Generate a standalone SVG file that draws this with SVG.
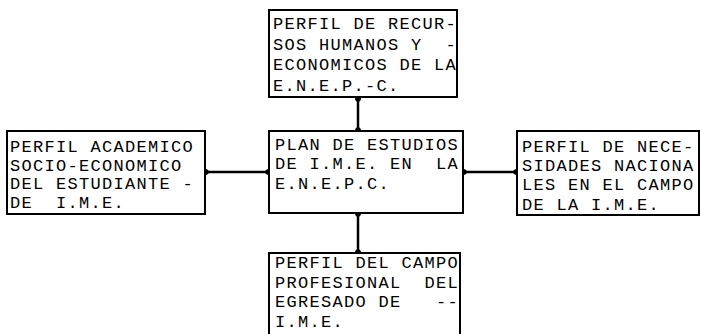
<svg xmlns="http://www.w3.org/2000/svg" width="701" height="334" viewBox="0 0 701 334">
<defs>
<style>
.box{fill:#fff;stroke:#000;stroke-width:2}
.t{font-family:"Liberation Mono","Courier New",monospace;font-size:17px;letter-spacing:1.3px;fill:#000;white-space:pre}
.c{stroke:#000;stroke-width:2.5;fill:none}
</style>
<marker id="blob" viewBox="0 0 10 10" refX="5" refY="5" markerWidth="4" markerHeight="3" orient="auto">
<ellipse cx="5" cy="5" rx="5" ry="4" fill="#000"/>
</marker>
</defs>
<rect width="701" height="334" fill="#fff"/>
<g id="connectors">
<line class="c" x1="358" y1="98" x2="358" y2="131" marker-start="url(#blob)" marker-end="url(#blob)"/>
<line class="c" x1="358" y1="213" x2="358" y2="253" marker-start="url(#blob)" marker-end="url(#blob)"/>
<line class="c" x1="205" y1="172" x2="269" y2="172" marker-start="url(#blob)" marker-end="url(#blob)"/>
<line class="c" x1="463" y1="172" x2="517" y2="172" marker-start="url(#blob)" marker-end="url(#blob)"/>
</g>
<g id="top">
<rect class="box" x="269" y="10" width="188" height="87"/>
<text class="t" x="273" y="29">PERFIL DE RECUR-</text>
<text class="t" x="273" y="50">SOS HUMANOS Y  -</text>
<text class="t" x="273" y="70">ECONOMICOS DE LA</text>
<text class="t" x="273" y="91">E.N.E.P.-C.</text>
</g>
<g id="left">
<rect class="box" x="7" y="131" width="198" height="83"/>
<text class="t" x="10" y="152">PERFIL ACADEMICO</text>
<text class="t" x="10" y="171">SOCIO-ECONOMICO</text>
<text class="t" x="10" y="189">DEL ESTUDIANTE -</text>
<text class="t" x="10" y="208">DE  I.M.E.</text>
</g>
<g id="center">
<rect class="box" x="269" y="131" width="194" height="82"/>
<text class="t" x="275" y="150">PLAN DE ESTUDIOS</text>
<text class="t" x="275" y="169">DE I.M.E. EN  LA</text>
<text class="t" x="275" y="189">E.N.E.P.C.</text>
</g>
<g id="right">
<rect class="box" x="517" y="131" width="182" height="84"/>
<text class="t" x="522" y="152">PERFIL DE NECE-</text>
<text class="t" x="522" y="171">SIDADES NACIONA</text>
<text class="t" x="522" y="190">LES EN EL CAMPO</text>
<text class="t" x="522" y="210">DE LA I.M.E.</text>
</g>
<g id="bottom">
<rect class="box" x="269" y="253" width="191" height="100"/>
<text class="t" x="275" y="268">PERFIL DEL CAMPO</text>
<text class="t" x="275" y="288">PROFESIONAL  DEL</text>
<text class="t" x="275" y="307">EGRESADO DE   --</text>
<text class="t" x="275" y="327">I.M.E.</text>
</g>
</svg>
